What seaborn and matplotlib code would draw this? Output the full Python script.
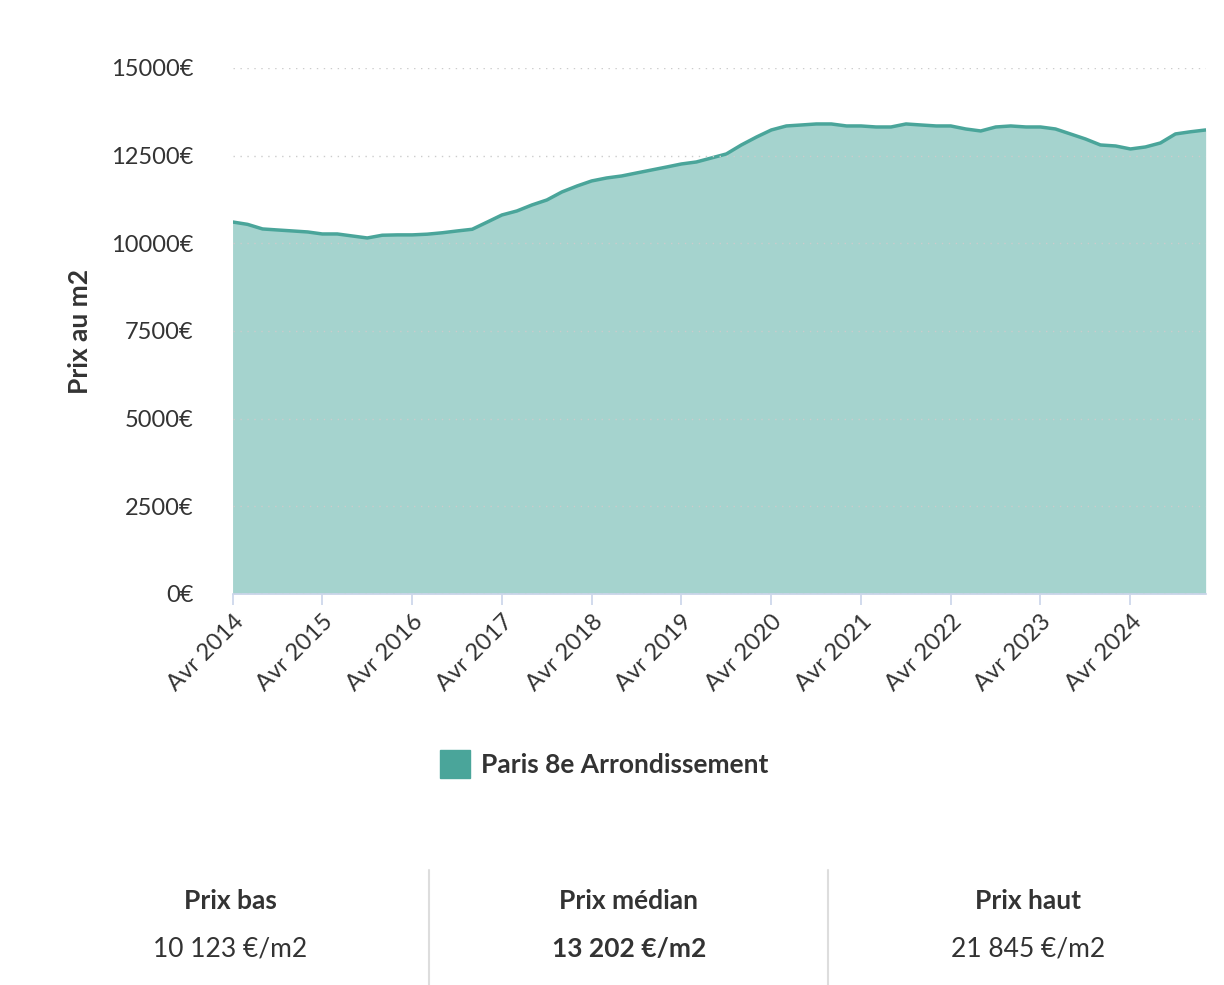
import matplotlib
matplotlib.use("Agg")
import matplotlib.pyplot as plt
import matplotlib.dates as mdates
import seaborn as sns
import pandas as pd
import numpy as np

sns.set_theme(style="white")
plt.rcParams['font.family'] = ['Lato', 'DejaVu Sans']

# bi-monthly prices from Apr 2014
prices = [10608, 10540, 10409, 10380, 10352, 10323, 10266, 10266, 10209, 10152,
          10230, 10240, 10240, 10260, 10300, 10352, 10400, 10608, 10808, 10922,
          11093, 11236, 11464, 11635, 11778, 11863, 11920, 12006, 12091, 12177,
          12262, 12319, 12433, 12548, 12804, 13032, 13232, 13346, 13374, 13403,
          13403, 13346, 13346, 13317, 13317, 13403, 13374, 13346, 13346, 13260,
          13203, 13317, 13346, 13317, 13317, 13260, 13118, 12975, 12804, 12775,
          12690, 12747, 12861, 13118, 13180, 13232]
dates = pd.date_range(start="2014-04-01", periods=len(prices), freq="2MS")
df = pd.DataFrame({"date": dates, "prix": prices})
tick_years = list(range(2014, 2025))
tick_labels = [f"Avr {y}" for y in tick_years]
yticks = [0, 2500, 5000, 7500, 10000, 12500, 15000]
stats_titles = ["Prix bas", "Prix médian", "Prix haut"]
stats_values = ["10 123 €/m2", "13 202 €/m2", "21 845 €/m2"]

line_c = "#4aa59a"
fill_c = "#a5d3ce"

fig = plt.figure(figsize=(12.24, 9.85), dpi=100)
ax = fig.add_axes([0.19, 0.397, 0.795, 0.534])
ax.fill_between(df["date"], df["prix"], 0, color=fill_c, linewidth=0)
sns.lineplot(data=df, x="date", y="prix", ax=ax, color=line_c, linewidth=2.5)
ax.set_xlim(df["date"].iloc[0], df["date"].iloc[-1])
ax.set_ylim(0, 15000)
ax.set_yticks(yticks)
ax.set_yticklabels([f"{v}€" for v in yticks], fontsize=17, color="#333333")
ax.set_xticks([pd.Timestamp(f"{y}-04-01") for y in tick_years])
ax.set_xticklabels(tick_labels, rotation=45, ha="right", rotation_mode="anchor",
                   fontsize=17, color="#333333")
ax.tick_params(axis="x", length=8, color="#ccd6eb", pad=4, bottom=True)
ax.tick_params(axis="y", length=0, pad=28)
ax.yaxis.grid(True, linestyle=(0, (1, 4)), color="#cccccc", linewidth=1)
ax.set_axisbelow(False)
for s in ["top", "right", "left"]:
    ax.spines[s].set_visible(False)
ax.spines["bottom"].set_color("#ccd6eb")
ax.set_xlabel("")
ax.set_ylabel("Prix au m2", fontsize=19, fontweight="bold", color="#333333", labelpad=14)

# legend
fig.patches.append(plt.Rectangle((440/1224, 1-778/985), 30/1224, 28/985,
                                 transform=fig.transFigure, color=line_c))
fig.text(481/1224, 1-765/985, "Paris 8e Arrondissement", fontsize=19,
         fontweight="bold", color="#333333", va="center")

# stats
xs = [230, 629, 1028]
for x, t, v, i in zip(xs, stats_titles, stats_values, range(3)):
    fig.text(x/1224, 1-901/985, t, fontsize=19, fontweight="bold",
             color="#333333", ha="center", va="center")
    fig.text(x/1224, 1-949/985, v, fontsize=19, color="#333333",
             ha="center", va="center", fontweight="bold" if i == 1 else "normal")
for x in [429, 828]:
    fig.add_artist(plt.Line2D([x/1224, x/1224], [1-870/985, 0], color="#dddddd",
                              linewidth=1.5, transform=fig.transFigure))

fig.savefig("out.png", dpi=100, facecolor="white")
